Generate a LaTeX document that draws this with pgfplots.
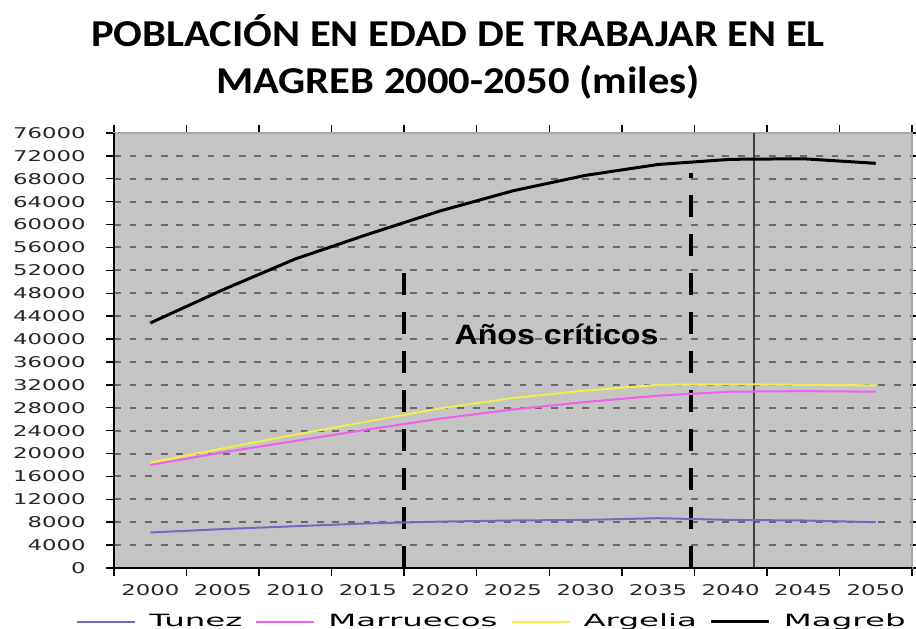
\documentclass[border=0pt]{standalone}
\usepackage{fontspec}
\setmainfont{Carlito}
\newfontfamily\titf[FakeStretch=1.12]{Carlito}
\newfontfamily\tickf[FakeStretch=1.54]{DejaVu Sans}
\newfontfamily\legf[FakeStretch=1.92]{DejaVu Sans}
\newfontfamily\annf[FakeStretch=1.15]{Liberation Sans}
\usepackage{pgfplots}
\usepackage{pgfplotstable}
\pgfplotsset{compat=1.18}

\definecolor{plotbg}{HTML}{C4C4C4}
\definecolor{gridc}{HTML}{6A6A6A}
\definecolor{tunez}{HTML}{6E6EC0}
\definecolor{marr}{HTML}{F060F0}
\definecolor{arg}{HTML}{EEEE50}

% miles de personas
\pgfplotstableread{
year tunez marruecos argelia magreb
2000 6200 18000 18400 42800
2005 6800 20200 20900 48600
2010 7300 22200 23300 54000
2015 7800 24200 25600 58300
2020 8100 26100 27900 62400
2025 8300 27700 29700 65900
2030 8400 29000 31000 68600
2035 8700 30100 32000 70500
2040 8400 30800 32100 71400
2045 8300 30900 32000 71500
2050 8000 30800 31900 70700
}\datos

\begin{document}
\begin{tikzpicture}
\begin{axis}[name=ax, scale only axis, width=399pt, height=217.5pt,
    xmin=1997.5, xmax=2052.5, ymin=0, ymax=76000,
    xtick={1997.5,2002.5,2007.5,2012.5,2017.5,2022.5,2027.5,2032.5,2037.5,2042.5,2047.5,2052.5},
    xticklabels={2000,2005,2010,2015,2020,2025,2030,2035,2040,2045,2050},
    x tick label as interval,
    ytick={0,4000,...,76000},
    scaled y ticks=false,
    /pgf/number format/fixed, /pgf/number format/precision=0,
    /pgf/number format/1000 sep={},
    /pgf/number format/assume math mode=true,
    ymajorgrids,
    grid style={gridc, line width=1pt, dash pattern=on 3.4pt off 4.4pt},
    axis background/.style={fill=plotbg},
    axis line style={draw=black!35, line width=0.7pt},
    tick align=outside, major tick length=4pt,
    tick style={black, line width=0.7pt},
    tick label style={font=\tickf\fontsize{7.4}{8}\selectfont, text=black!85},
    yticklabel style={inner sep=0pt, xshift=-10pt},
    xticklabel style={inner sep=0pt, yshift=-4pt},
    legend columns=4,
    legend style={draw=none, fill=none, at={(rel axis cs:0,0)}, anchor=west,
      xshift=-22pt, yshift=-27pt, nodes={inner sep=0pt},
      font=\legf\fontsize{8.45}{9}\selectfont,
      /tikz/every odd column/.append style={column sep=6.5pt},
      /tikz/every even column/.append style={column sep=6.5pt}},
    legend image code/.code={\draw[#1] (0pt,0pt) -- (29pt,0pt);},
  ]
  % lineas de referencia
  \addplot[forget plot, black, line width=2pt, dash pattern=on 11pt off 8.5pt] coordinates {(2017.5,0) (2017.5,51800)};
  \addplot[forget plot, black, line width=2pt, dash pattern=on 11pt off 8.5pt] coordinates {(2037.3,0) (2037.3,69000)};
  \addplot[forget plot, black!75, line width=0.8pt] coordinates {(2041.6,0) (2041.6,76000)};

  \addplot[tunez, line width=1pt] table[x=year, y=tunez] {\datos};
  \addlegendentry{Tunez}
  \addplot[marr, line width=1pt] table[x=year, y=marruecos] {\datos};
  \addlegendentry{Marruecos}
  \addplot[arg, line width=1pt] table[x=year, y=argelia] {\datos};
  \addlegendentry{Argelia}
  \addplot[black, line width=1.5pt] table[x=year, y=magreb] {\datos};
  \addlegendentry{Magreb}

  \node[font=\annf\bfseries\fontsize{14}{16}\selectfont] at (axis cs:2028,40750) {Años críticos};
\end{axis}
\draw[black, line width=1pt] (ax.north west) -- (ax.south west) -- (ax.south east);
\node[anchor=base, font=\titf\bfseries\fontsize{19}{21}\selectfont] at ([xshift=-27.5pt, yshift=43.2pt]ax.north) {POBLACIÓN EN EDAD DE TRABAJAR EN EL};
\node[anchor=base, font=\titf\bfseries\fontsize{19}{21}\selectfont] at ([xshift=-27.5pt, yshift=19.8pt]ax.north) {MAGREB 2000-2050 (miles)};
\pgfresetboundingbox
\path ([xshift=-57pt, yshift=-30.5pt]ax.south west) rectangle ([xshift=2pt, yshift=66.5pt]ax.north east);
\end{tikzpicture}
\end{document}
